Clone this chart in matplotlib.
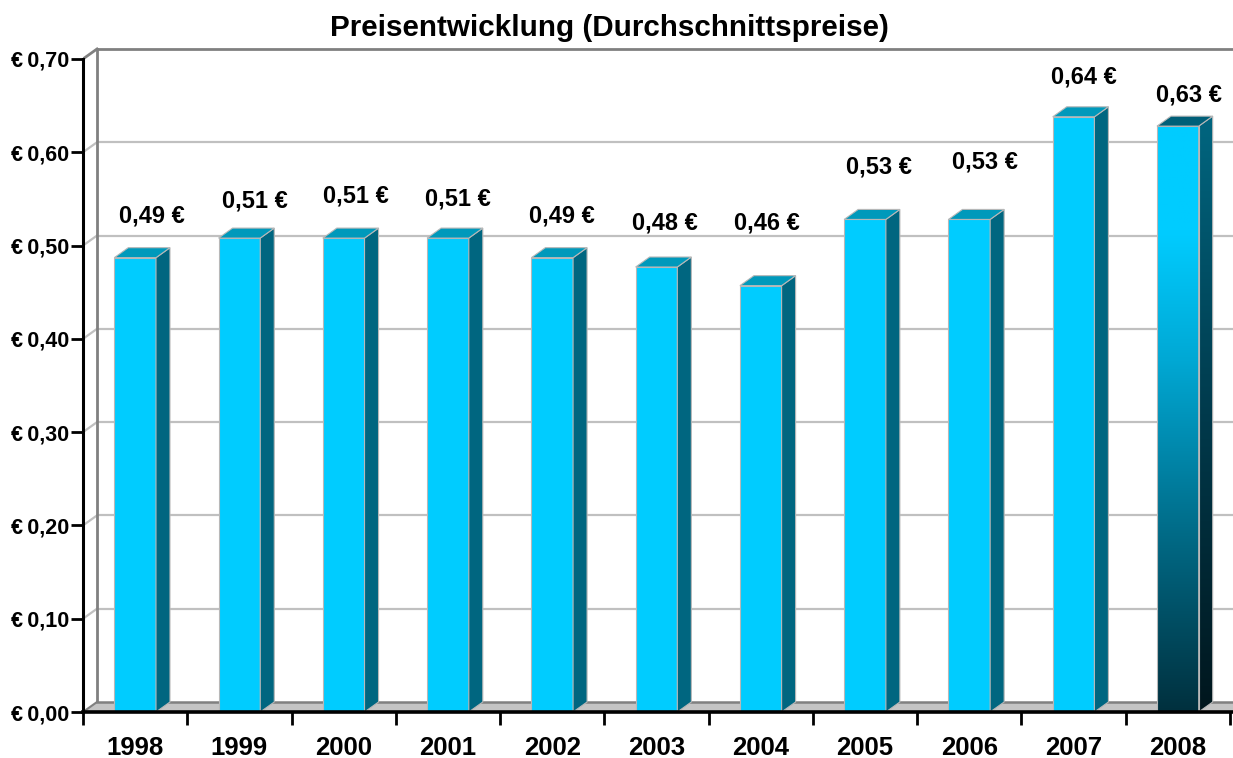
import matplotlib
matplotlib.use("Agg")
import matplotlib.pyplot as plt
import numpy as np
from matplotlib.patches import Polygon
from matplotlib.colors import LinearSegmentedColormap
from matplotlib.ticker import FixedLocator, FuncFormatter

plt.rcParams['font.family'] = ['Liberation Sans', 'DejaVu Sans']

# ---- data ----
years = ["1998", "1999", "2000", "2001", "2002", "2003", "2004", "2005", "2006", "2007", "2008"]
prices = [0.487, 0.508, 0.508, 0.508, 0.487, 0.477, 0.457, 0.528, 0.528, 0.638, 0.628]
labels = ["0,49 €", "0,51 €", "0,51 €", "0,51 €", "0,49 €", "0,48 €", "0,46 €", "0,53 €", "0,53 €", "0,64 €", "0,63 €"]
y_ticks = [0.0, 0.1, 0.2, 0.3, 0.4, 0.5, 0.6, 0.7]
title = "Preisentwicklung (Durchschnittspreise)"

# label placement offsets (pixels) relative to the bar top
lab_dx = [17, 15, 12, 10, 10, 8, 6, 14, 16, 10, 11]
lab_dy = [42, 37, 42, 39, 42, 44, 63, 52, 57, 40, 31]

W, H = 1233, 758
fig = plt.figure(figsize=(W / 100, H / 100), dpi=100)
px_x = 104.27
px_y = 932.9
ymax = 0.72
ax = fig.add_axes([83 / W, 46 / H, (W - 83) / W, ymax * px_y / H])
x0 = -0.5
xmax = x0 + (W - 83) / px_x
ax.set_xlim(x0, xmax)
ax.set_ylim(0, ymax)

dx = 14 / px_x
dy = 10 / px_y

grid_c = '#C0C0C0'
wall_c = '#808080'

# back wall gridlines
for v in y_ticks[1:-1]:
    ax.plot([x0 + dx, xmax], [v + dy, v + dy], color=grid_c, lw=1.6, zorder=1, solid_capstyle='butt')
    ax.plot([x0, x0 + dx], [v, v + dy], color=grid_c, lw=1.6, zorder=1)
top = y_ticks[-1]
ax.plot([x0 + dx, xmax], [top + dy, top + dy], color=wall_c, lw=2, zorder=1, solid_capstyle='butt')
ax.plot([x0, x0 + dx], [top, top + dy], color=wall_c, lw=2, zorder=1)
ax.plot([x0 + dx, x0 + dx], [dy, top + dy], color=wall_c, lw=2, zorder=1)

# floor
floor = Polygon([(x0, 0), (xmax, 0), (xmax, dy), (x0 + dx, dy)], closed=True,
                facecolor='#C4C4C4', edgecolor='none', zorder=2)
ax.add_patch(floor)
ax.plot([x0 + dx, xmax], [dy, dy], color=wall_c, lw=1.8, zorder=2)
ax.plot([x0, x0 + dx], [0, dy], color=wall_c, lw=1.5, zorder=2)

front_c = '#00CCFF'
top_c = '#0099BB'
side_c = '#006680'
edge_c = '#B8B8B8'
bw = 0.4
xs = np.arange(len(years))

bars = ax.bar(xs, prices, width=bw, color=front_c, edgecolor=edge_c, linewidth=0.8, zorder=3)

front_grad = LinearSegmentedColormap.from_list('fg', [(0, '#00303E'), (0.3, '#006A86'),
                                                      (0.6, '#00A8D4'), (0.82, '#00CCFF'), (1, '#00CCFF')])
side_grad = LinearSegmentedColormap.from_list('sg', [(0, '#00161D'), (0.5, '#003A4C'), (1, '#006680')])

for i, (x, v) in enumerate(zip(xs, prices)):
    xl, xr = x - bw / 2, x + bw / 2
    side = Polygon([(xr, 0), (xr + dx, dy), (xr + dx, v + dy), (xr, v)], closed=True,
                   facecolor=side_c, edgecolor=edge_c, lw=0.8, zorder=3)
    topf = Polygon([(xl, v), (xr, v), (xr + dx, v + dy), (xl + dx, v + dy)], closed=True,
                   facecolor=top_c, edgecolor=edge_c, lw=0.8, zorder=3)
    ax.add_patch(side)
    ax.add_patch(topf)
    if i == len(xs) - 1:
        grad = np.linspace(0, 1, 256).reshape(-1, 1)
        bars[i].set_facecolor('none')
        im = ax.imshow(grad, cmap=front_grad, origin='lower', extent=[xl, xr, 0, v],
                       aspect='auto', zorder=2.9)
        im.set_clip_path(bars[i])
        side.set_facecolor('none')
        im2 = ax.imshow(grad, cmap=side_grad, origin='lower', extent=[xr, xr + dx, 0, v + dy],
                        aspect='auto', zorder=2.9)
        im2.set_clip_path(side)
        topf.set_facecolor('#005F78')
    ax.annotate(labels[i], xy=(x, v), xytext=(lab_dx[i] * 0.72, lab_dy[i] * 0.72),
                textcoords='offset points', ha='center', va='center',
                fontsize=17, fontweight='bold', zorder=5)

ax.set_xlim(x0, xmax)
ax.set_ylim(0, ymax)

# axes spines and ticks
for s in ['top', 'right']:
    ax.spines[s].set_visible(False)
ax.spines['left'].set_bounds(0, top)
ax.spines['left'].set_linewidth(2.2)
ax.spines['left'].set_zorder(6)
ax.spines['bottom'].set_linewidth(2.6)
ax.spines['bottom'].set_zorder(6)
ax.set_facecolor('none')

ax.yaxis.set_major_locator(FixedLocator(y_ticks))
ax.yaxis.set_major_formatter(FuncFormatter(lambda v, p: "€\u2009" + f"{v:.2f}".replace('.', ',')))
ax.tick_params(axis='y', which='major', length=9, width=2, direction='out', pad=1,
               labelsize=15.5)
for t in ax.get_yticklabels():
    t.set_fontweight('bold')

ax.xaxis.set_major_locator(FixedLocator(np.arange(-0.5, len(years) + 0.5, 1.0)))
ax.xaxis.set_major_formatter(FuncFormatter(lambda v, p: ""))
ax.xaxis.set_minor_locator(FixedLocator(xs))
ax.xaxis.set_minor_formatter(FuncFormatter(lambda v, p: years[int(round(v))]))
ax.tick_params(axis='x', which='major', length=9, width=2, direction='out')
ax.tick_params(axis='x', which='minor', length=0, pad=17, labelsize=18.5)
for t in ax.get_xticklabels(minor=True):
    t.set_fontweight('bold')

fig.text(609 / W, 1 - 28 / H, title, ha='center', va='center', fontsize=21.3, fontweight='bold')

fig.savefig('out.png', dpi=100, facecolor='white')
